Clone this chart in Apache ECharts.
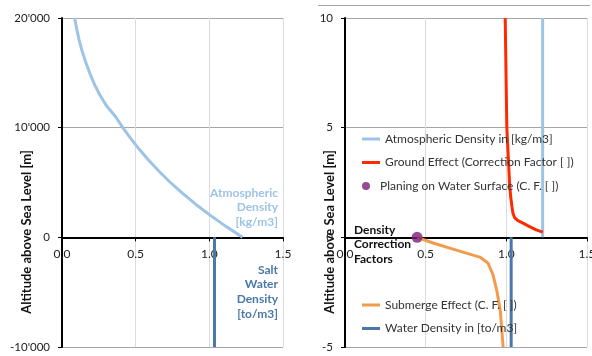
<!DOCTYPE html>
<html>
<head>
<meta charset="utf-8">
<script src="https://cdn.jsdelivr.net/npm/echarts@6/dist/echarts.min.js"></script>
<style>
  html, body { margin: 0; padding: 0; background: #fff; }
  #chart { width: 592px; height: 356px; }
</style>
</head>
<body>
<div id="chart"></div>
<script>
// left panel: altitude [m] vs density
const airAltitude = [0, 1000, 2000, 3000, 4000, 5000, 6000, 7000, 8000, 9000, 10000,
  11000, 12000, 13000, 14000, 15000, 16000, 17000, 18000, 19000, 20000];
const airDensity = [1.225, 1.112, 1.007, 0.909, 0.819, 0.736, 0.660, 0.590, 0.526, 0.467, 0.413,
  0.364, 0.302, 0.256, 0.218, 0.188, 0.160, 0.136, 0.116, 0.100, 0.086];
const saltAltitude = [0, -10000];
const saltDensity = [1.035, 1.035];

// right panel: altitude [m] vs correction factors
const atmoHeight = [0, 10];
const atmoValue = [1.225, 1.225];
const groundHeight = [10, 5, 3.07, 2.46, 1.85, 1.40, 1.10, 0.90, 0.76, 0.65, 0.49, 0.34, 0.24];
const groundFactor = [0.993, 1.003, 1.016, 1.020, 1.027, 1.035, 1.041, 1.051, 1.072, 1.103, 1.144, 1.185, 1.226];
const planingHeight = [0];
const planingFactor = [0.447];
const submergeDepth = [0, -0.26, -0.49, -0.72, -0.90, -1.17, -1.70, -2.46, -3.37, -5];
const submergeFactor = [0.447, 0.546, 0.649, 0.752, 0.835, 0.886, 0.917, 0.942, 0.963, 0.980];
const waterHeight = [0, -5];
const waterValue = [1.03, 1.03];

const xTickLabels = ['0.0', '0.5', '1.0', '1.5'];
const yTickLabelsLeft = ["-10'000", '0', "10'000", "20'000"];
const yTickLabelsRight = ['-5', '0', '5', '10'];

const LIGHT_BLUE = '#9dc3e6';
const DARK_BLUE = '#4a78ab';
const RED = '#ff2a00';
const ORANGE = '#f09c4c';
const PURPLE = '#7b1e7a';
const FONT = 'Lato, "Liberation Sans", sans-serif';

const GRID_H = 329;
// x axis sits on the zero line, one third up from the bottom in both panels
const ZERO_OFFSET = -GRID_H / 3;

const zip = (xs, ys) => xs.map((x, i) => [x, ys[i]]);

const chart = echarts.init(document.getElementById('chart'));

function xAxis(gridIndex) {
  return {
    type: 'value', gridIndex, min: 0, max: 1.5, interval: 0.5,
    position: 'bottom', offset: ZERO_OFFSET,
    axisLine: { onZero: false, lineStyle: { color: '#000', width: 2 } },
    axisTick: { show: true, length: 4, lineStyle: { color: '#000' } },
    axisLabel: {
      margin: 11, color: '#222', fontFamily: FONT, fontSize: 12,
      formatter: (v, i) => xTickLabels[i]
    },
    splitLine: { show: true, lineStyle: { color: '#dcdcdc' } }
  };
}

function yAxis(gridIndex, min, max, interval, labels) {
  return {
    type: 'value', gridIndex, min, max, interval,
    axisLine: { show: true, onZero: false, lineStyle: { color: '#000', width: 2 } },
    axisTick: { show: true, length: 4, lineStyle: { color: '#000' } },
    axisLabel: {
      margin: 12, color: '#222', fontFamily: FONT, fontSize: 11.5,
      formatter: (v, i) => labels[i]
    },
    splitLine: { show: true, lineStyle: { color: '#a6a6a6' } }
  };
}

function lineSeries(name, data, color, xi) {
  return {
    name, type: 'line', xAxisIndex: xi, yAxisIndex: xi, data,
    symbol: 'none', lineStyle: { color, width: 3 }, itemStyle: { color },
    z: 3
  };
}

const legendText = { fontFamily: FONT, fontSize: 12, color: '#333' };
const lineLegend = {
  left: 362, padding: 0, orient: 'vertical', icon: 'rect', itemWidth: 18, itemHeight: 3, itemGap: 11.5,
  textStyle: legendText
};

chart.setOption({
  animation: false,
  grid: [
    { left: 62, top: 18, width: 221, height: GRID_H, containLabel: false, outerBoundsMode: 'none' },
    { left: 345, top: 18, width: 242, height: GRID_H, containLabel: false, outerBoundsMode: 'none' }
  ],
  xAxis: [xAxis(0), xAxis(1)],
  yAxis: [
    yAxis(0, -10000, 20000, 10000, yTickLabelsLeft),
    yAxis(1, -5, 10, 5, yTickLabelsRight)
  ],
  legend: [
    Object.assign({}, lineLegend, {
      top: 133,
      data: ['Atmospheric Density in [kg/m3]', 'Ground Effect (Correction Factor [ ])']
    }),
    {
      left: 362, top: 180, padding: 0, orient: 'vertical', icon: 'circle', itemWidth: 18, itemHeight: 8,
      textStyle: legendText,
      data: ['Planing on Water Surface (C. F. [ ])']
    },
    Object.assign({}, lineLegend, {
      top: 299,
      data: ['Submerge Effect (C. F. [ ])', 'Water Density in [to/m3]']
    })
  ],
  series: [
    lineSeries('Atmospheric Density', zip(airDensity, airAltitude), LIGHT_BLUE, 0),
    lineSeries('Salt Water Density', zip(saltDensity, saltAltitude), DARK_BLUE, 0),
    lineSeries('Atmospheric Density in [kg/m3]', zip(atmoValue, atmoHeight), LIGHT_BLUE, 1),
    lineSeries('Ground Effect (Correction Factor [ ])', zip(groundFactor, groundHeight), RED, 1),
    lineSeries('Submerge Effect (C. F. [ ])', zip(submergeFactor, submergeDepth), ORANGE, 1),
    lineSeries('Water Density in [to/m3]', zip(waterValue, waterHeight), DARK_BLUE, 1),
    {
      name: 'Planing on Water Surface (C. F. [ ])', type: 'scatter', xAxisIndex: 1, yAxisIndex: 1,
      data: zip(planingFactor, planingHeight), symbolSize: 11,
      itemStyle: { color: PURPLE }, z: 5
    }
  ],
  graphic: [
    { type: 'line', shape: { x1: 318, y1: 5.5, x2: 590, y2: 5.5 }, style: { stroke: '#a6a6a6', lineWidth: 1 } },
    {
      type: 'text', x: 27, y: 232, rotation: Math.PI / 2,
      style: { text: 'Altitude above Sea Level [m]', font: 'bold 13px ' + FONT, fill: '#111', align: 'center', verticalAlign: 'middle' }
    },
    {
      type: 'text', x: 330, y: 232, rotation: Math.PI / 2,
      style: { text: 'Altitude above Sea Level [m]', font: 'bold 13px ' + FONT, fill: '#111', align: 'center', verticalAlign: 'middle' }
    },
    {
      type: 'text', x: 278, y: 185.5,
      style: { text: 'Atmospheric\nDensity\n[kg/m3]', font: 'bold 12px ' + FONT, fill: LIGHT_BLUE, align: 'right', verticalAlign: 'top', lineHeight: 14.5 }
    },
    {
      type: 'text', x: 278, y: 262.5,
      style: { text: 'Salt\nWater\nDensity\n[to/m3]', font: 'bold 12px ' + FONT, fill: DARK_BLUE, align: 'right', verticalAlign: 'top', lineHeight: 14.7 }
    },
    {
      type: 'text', x: 354, y: 222.5,
      style: { text: 'Density\nCorrection\nFactors', font: 'bold 12px ' + FONT, fill: '#111', align: 'left', verticalAlign: 'top', lineHeight: 14.5 }
    }
  ]
});
</script>
</body>
</html>
